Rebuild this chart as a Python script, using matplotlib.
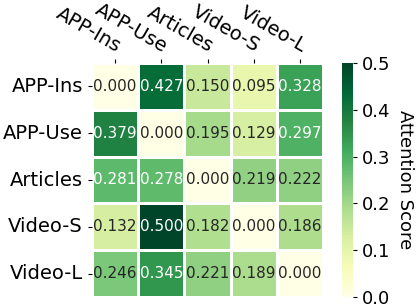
import matplotlib
matplotlib.use("Agg")
import matplotlib.pyplot as plt
import numpy as np
import seaborn as sns

labels = ["APP-Ins", "APP-Use", "Articles", "Video-S", "Video-L"]
row_app_ins = [0.000, 0.427, 0.150, 0.095, 0.328]
row_app_use = [0.379, 0.000, 0.195, 0.129, 0.297]
row_articles = [0.281, 0.278, 0.000, 0.219, 0.222]
row_video_s = [0.132, 0.500, 0.182, 0.000, 0.186]
row_video_l = [0.246, 0.345, 0.221, 0.189, 0.000]

data = np.array([row_app_ins, row_app_use, row_articles, row_video_s, row_video_l])

fig = plt.figure(figsize=(4.16, 3.08), dpi=100)
W, H = 416, 308
ax = fig.add_axes([92 / W, 1 - 297 / H, 231 / W, 234 / H])
cax = fig.add_axes([342 / W, 1 - 297 / H, 11 / W, 234 / H])

sns.heatmap(data, ax=ax, cbar_ax=cax, cmap="YlGn", vmin=0, vmax=0.5,
            annot=True, fmt=".3f", annot_kws={"fontsize": 11},
            linewidths=2, linecolor="white",
            xticklabels=labels, yticklabels=labels)

ax.xaxis.tick_top()
ax.set_xticklabels(labels, rotation=-30, ha="right", va="bottom",
                   rotation_mode="anchor", fontsize=14)
ax.set_yticklabels(labels, rotation=0, fontsize=14)
ax.tick_params(axis="both", length=3)
ax.tick_params(axis="x", pad=2)

cax.tick_params(labelsize=13, length=3)
cax.set_yticks([0.0, 0.1, 0.2, 0.3, 0.4, 0.5])
cax.set_ylabel("Attention Score", fontsize=13, rotation=270, labelpad=17)

fig.savefig("out.png", dpi=100)
